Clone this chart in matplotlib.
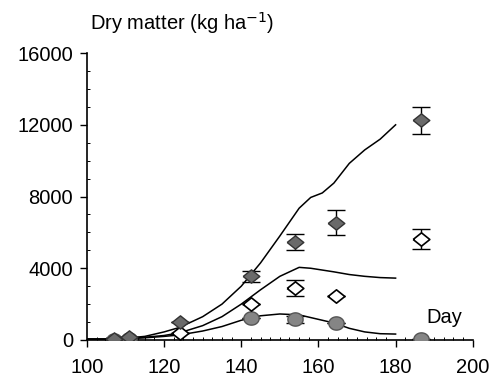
import numpy as np
from matplotlib import pyplot as plt
from matplotlib.ticker import MultipleLocator

plt.rcParams['font.family'] = ['Liberation Sans', 'DejaVu Sans']

# observed values
day_fill = [107, 111, 124, 142.5, 154, 164.5, 186.5]
dm_fill = [50, 150, 1000, 3550, 5450, 6550, 12250]
err_fill = [0, 0, 0, 300, 450, 700, 750]

day_open = [124, 142.5, 154, 164.5, 186.5]
dm_open = [400, 2000, 2900, 2450, 5650]
err_open = [0, 0, 450, 0, 550]

day_circ = [107, 111, 142.5, 154, 164.5, 186.5]
dm_circ = [0, 80, 1250, 1150, 950, 80]
err_circ = [0, 0, 0, 200, 0, 0]

# simulated curves
sim_day = [100, 105, 110, 115, 120, 124, 130, 135, 140, 145, 150, 155, 158, 161, 164, 168, 172, 176, 180]
sim_top = [50, 50, 100, 200, 450, 700, 1300, 2000, 3000, 4300, 5800, 7350, 7950, 8200, 8750, 9850, 10600, 11200, 12000]
sim_mid = [50, 50, 80, 150, 250, 400, 800, 1300, 2000, 2800, 3550, 4050, 4000, 3900, 3800, 3650, 3550, 3480, 3450]
sim_low = [50, 50, 70, 120, 200, 280, 500, 750, 1100, 1350, 1450, 1400, 1250, 1100, 950, 650, 450, 350, 330]

# slightly flattened marker shapes, as in the scanned figure
diamond = [(-1, 0), (0, 0.8), (1, 0), (0, -0.8), (-1, 0)]
t = np.linspace(0, 2 * np.pi, 40)
ellipse = list(zip(np.cos(t), 0.87 * np.sin(t)))

fig = plt.figure(figsize=(4.94, 3.82), dpi=100)
ax = fig.add_axes([0.176, 0.11, 0.781, 0.751])

for ys in [sim_top, sim_mid, sim_low]:
    ax.plot(sim_day, ys, color='black', lw=1.1, zorder=2)

ax.errorbar(day_circ, dm_circ, yerr=err_circ, fmt='none', ecolor='black', elinewidth=1, capsize=6.5, zorder=3)
ax.plot(day_circ, dm_circ, ls='none', marker=ellipse, ms=11, mfc='#858585', mec='#555555', zorder=3)
ax.errorbar(day_open, dm_open, yerr=err_open, fmt='none', ecolor='black', elinewidth=1, capsize=6.5, zorder=4)
ax.plot(day_open, dm_open, ls='none', marker=diamond, ms=12, mfc='white', mec='black', mew=1.2, zorder=4)
ax.errorbar(day_fill, dm_fill, yerr=err_fill, fmt='none', ecolor='black', elinewidth=1, capsize=6.5, zorder=5)
ax.plot(day_fill, dm_fill, ls='none', marker=diamond, ms=12, mfc='#6a6a6a', mec='#333333', zorder=5)

ax.set_xlim(100, 200)
ax.set_ylim(0, 16000)
ax.set_xticks([100, 120, 140, 160, 180, 200])
ax.set_yticks([0, 4000, 8000, 12000, 16000])
ax.xaxis.set_minor_locator(MultipleLocator(2.5))
ax.yaxis.set_minor_locator(MultipleLocator(1000))
ax.tick_params(which='major', length=5, width=1, labelsize=14.5, direction='out')
ax.tick_params(axis='x', which='major', pad=8)
ax.tick_params(axis='y', which='major', pad=5)
ax.tick_params(which='minor', length=2, width=0.7, direction='in')
for s in ['top', 'right']:
    ax.spines[s].set_visible(False)
ax.spines['left'].set_linewidth(1.2)
ax.spines['bottom'].set_linewidth(1.2)

fig.text(0.182, 0.94, 'Dry matter (kg ha$^{-1}$)', fontsize=14.5, ha='left', va='center')
ax.text(188, 700, 'Day', fontsize=14.5, ha='left', va='bottom')

fig.savefig('out.png', dpi=100)
